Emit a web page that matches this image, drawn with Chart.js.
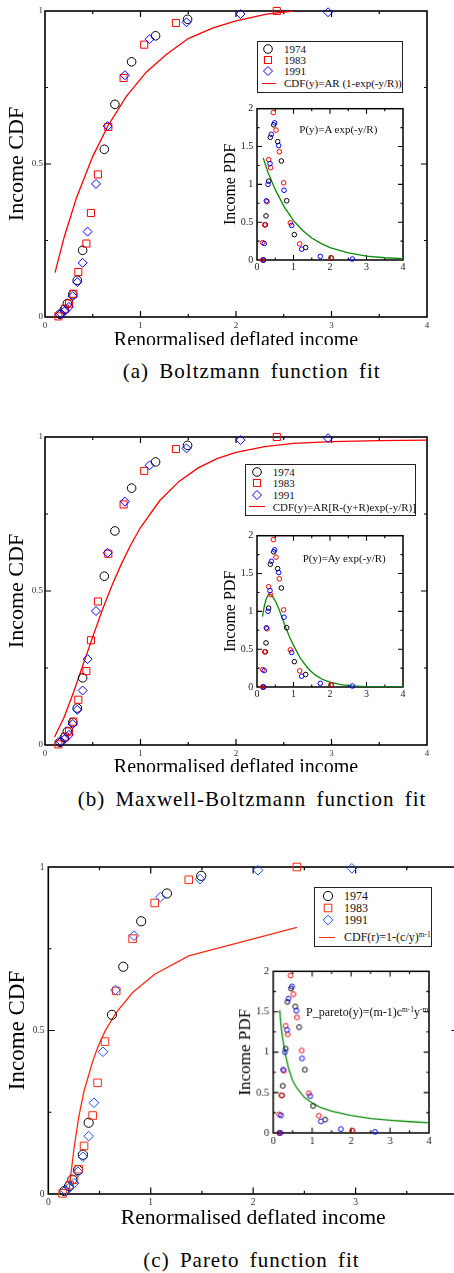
<!DOCTYPE html>
<html><head><meta charset="utf-8">
<script src="https://cdn.jsdelivr.net/npm/chart.js@4.4.1/dist/chart.umd.min.js"></script>
<style>
html,body{margin:0;padding:0;background:#fff;}
#page{position:relative;width:454px;height:1273px;overflow:hidden;background:#fff;}
.clip{position:absolute;overflow:hidden;}
canvas{display:block;position:absolute;}
.legend{position:absolute;border:1px solid #222;background:#fff;box-sizing:border-box;}
.txt{position:absolute;font-family:"Liberation Serif","Times New Roman",serif;white-space:nowrap;color:#111;line-height:1;transform:translateY(-50%);}
.caption{position:absolute;font-family:"Liberation Serif","Times New Roman",serif;white-space:nowrap;color:#000;line-height:1;transform:translate(-50%,-50%);font-size:21px;letter-spacing:1px;word-spacing:4px;}
sup{font-size:0.62em;vertical-align:0.55em;line-height:0;}
</style></head><body><div id="page"></div>
<script>
// ---------------- DATA ----------------
const years = ['1974', '1983', '1991'];

// Income CDF (main panels)
const cdf1974X = [0.157,0.202,0.234,0.290,0.338,0.394,0.621,0.732,0.907,1.158,1.493];
const cdf1974Y = [0.009,0.024,0.044,0.073,0.120,0.218,0.548,0.695,0.834,0.919,0.973];
const cdf1983X = [0.140,0.209,0.251,0.297,0.349,0.433,0.481,0.554,0.663,0.823,1.039,1.371,2.427];
const cdf1983Y = [0.002,0.027,0.044,0.076,0.147,0.240,0.340,0.466,0.621,0.781,0.890,0.961,1.000];
const cdf1991X = [0.167,0.209,0.251,0.290,0.338,0.394,0.446,0.534,0.656,0.837,1.095,1.482,2.047,2.964];
const cdf1991Y = [0.011,0.020,0.033,0.068,0.114,0.177,0.279,0.435,0.624,0.790,0.908,0.963,0.990,0.996];

// Income PDF (insets)
const pdf1974X = [0.164,0.228,0.247,0.320,0.365,0.457,0.566,0.667,0.813,1.023,1.333,2.030];
const pdf1974Y = [0.000,0.465,0.583,1.043,1.622,1.787,1.565,1.309,0.783,0.335,0.165,0.026];
const pdf1983X = [0.155,0.155,0.210,0.274,0.320,0.374,0.447,0.520,0.612,0.730,0.913,1.169,2.030];
const pdf1983Y = [0.000,0.230,0.465,0.770,1.326,1.220,1.948,1.717,1.430,1.020,0.491,0.213,0.030];
const pdf1991X = [0.183,0.200,0.256,0.301,0.356,0.393,0.484,0.594,0.740,0.950,1.224,1.735,2.612];
const pdf1991Y = [0.000,0.217,0.783,1.000,1.274,1.661,1.813,1.513,0.922,0.457,0.143,0.048,0.013];

// Fitted CDF curves
const boltzCdfX = [0.105,0.2,0.33,0.5,0.66,0.85,1.06,1.27,1.5,1.76,2.0,2.32,2.6];
const boltzCdfY = [0.145,0.26,0.39,0.525,0.625,0.72,0.80,0.858,0.91,0.945,0.968,0.99,1.0];
const mbCdfX = [0.1,0.2,0.3,0.4,0.5,0.6,0.7,0.8,0.9,1.0,1.2,1.4,1.6,1.8,2.0,2.3,2.6,3.0,3.5,4.0];
const mbCdfY = [0.026,0.09,0.172,0.262,0.351,0.438,0.517,0.588,0.651,0.706,0.793,0.855,0.899,0.93,0.95,0.969,0.979,0.985,0.988,0.99];
const paretoCdfX = [0.140,0.209,0.251,0.297,0.349,0.433,0.481,0.554,0.663,0.823,1.039,1.371,2.427];
const paretoCdfY = [-0.27,0.03,0.14,0.235,0.315,0.405,0.447,0.498,0.555,0.616,0.672,0.728,0.815];

// Fitted PDF curves (insets)
const boltzPdfX = [0.17,0.3,0.5,0.75,1.0,1.25,1.5,1.75,2.0,2.5,3.0,3.5,4.0];
const boltzPdfY = [1.35,1.16,0.93,0.70,0.52,0.39,0.29,0.22,0.165,0.093,0.052,0.03,0.017];
const mbPdfX = [0.15,0.2,0.25,0.3,0.35,0.4,0.5,0.6,0.7,0.8,0.9,1.0,1.2,1.4,1.6,1.8,2.0,2.3,2.6,3.0,3.5,4.0];
const mbPdfY = [0.93,1.07,1.16,1.21,1.225,1.215,1.14,1.03,0.90,0.77,0.655,0.55,0.37,0.245,0.157,0.10,0.063,0.03,0.015,0.005,0.001,0.0];
const paretoPdfX = [0.17,0.2,0.25,0.3,0.4,0.5,0.6,0.8,1.0,1.2,1.5,2.0,2.5,3.0,3.5,4.0];
const paretoPdfY = [1.52,1.33,1.15,1.0,0.79,0.65,0.56,0.44,0.37,0.32,0.27,0.215,0.18,0.158,0.14,0.127];

// Tick values and labels
const xMajorTicks = [0,1,2,3,4];
const xMinorTicks = [0.5,1.5,2.5,3.5];
const cdfMajorTicks = [0,0.5,1];
const cdfMinorTicks = [0.25,0.75];
const pdfMajorTicks = [0,0.5,1,1.5,2];
const pdfMinorTicks = [0.25,0.75,1.25,1.75];
const xTickLabels = ['0','1','2','3','4'];
const cdfTickLabels = ['0','0.5','1'];
const pdfTickLabels = ['0','0.5','1','1.5','2'];

// Text
const cdfFitLabels = ['CDF(y)=AR (1-exp(-y/R))', 'CDF(y)=AR[R-(y+R)exp(-y/R)]', 'CDF(r)=1-(c/y)<sup>m-1</sup>'];
const pdfFitLabels = ['P(y)=A exp(-y/R)', 'P(y)=Ay exp(-y/R)', 'P_pareto(y)=(m-1)c<sup>m-1</sup>y<sup>-m</sup>'];
const captions = ['(a) Boltzmann function fit', '(b) Maxwell-Boltzmann function fit', '(c) Pareto function fit'];

// ---------------- HELPERS ----------------
const FONT = '"Liberation Serif","Times New Roman",serif';
const zip = (xs, ys) => xs.map((x, i) => ({x, y: ys[i]}));
const page = document.getElementById('page');

const frameTicks = {
  id: 'frameTicks',
  beforeDatasetsDraw(chart, args, o) {
    const {ctx, chartArea: {left, right, top, bottom}, scales: {x, y}} = chart;
    ctx.save();
    ctx.strokeStyle = '#000';
    ctx.lineWidth = o.tickWidth;
    ctx.beginPath();
    const hx = (vals, len) => vals.forEach(v => {
      if (v <= x.min || v >= x.max) return;
      const px = x.getPixelForValue(v);
      ctx.moveTo(px, bottom); ctx.lineTo(px, bottom - len);
      ctx.moveTo(px, top); ctx.lineTo(px, top + len);
    });
    const vy = (vals, len) => vals.forEach(v => {
      if (v <= y.min || v >= y.max) return;
      const py = y.getPixelForValue(v);
      ctx.moveTo(left, py); ctx.lineTo(left + len, py);
      ctx.moveTo(right, py); ctx.lineTo(right - len, py);
    });
    hx(o.xMajor, o.major); hx(o.xMinor, o.minor);
    vy(o.yMajor, o.major); vy(o.yMinor, o.minor);
    ctx.stroke();
    ctx.lineWidth = o.frameWidth;
    ctx.strokeRect(left, top, right - left, bottom - top);
    ctx.restore();
  }
};
Chart.register(frameTicks);

function makeCanvas(parent, left, top, w, h) {
  const c = document.createElement('canvas');
  c.width = w; c.height = h;
  c.style.left = left + 'px'; c.style.top = top + 'px';
  c.style.width = w + 'px'; c.style.height = h + 'px';
  parent.appendChild(c);
  return c;
}

function pointSet(label, xs, ys, style, color, r, order) {
  return {label, data: zip(xs, ys), showLine: false, pointStyle: style, pointRadius: r,
    pointBorderColor: color, borderColor: color, pointBackgroundColor: 'rgba(0,0,0,0)',
    backgroundColor: 'rgba(0,0,0,0)', pointBorderWidth: 1, borderWidth: 1, clip: false, order};
}
function lineSet(label, xs, ys, color, w) {
  return {label, data: zip(xs, ys), showLine: true, pointRadius: 0, borderColor: color,
    backgroundColor: color, borderWidth: w, tension: 0, order: 5};
}
const labelFrom = (vals, labels) => (v) => { const i = vals.indexOf(v); return i >= 0 ? labels[i] : ''; };

function buildMain(g, datasets) {
  const clip = document.createElement('div');
  clip.className = 'clip';
  clip.style.cssText = `left:0;top:${g.clipTop}px;width:454px;height:${g.clipBottom - g.clipTop}px;`;
  page.appendChild(clip);
  const canvasTop = g.plotT - 10;
  const xH = 40;
  const canvasH = g.plotB + xH - canvasTop;
  const c = makeCanvas(clip, 0, canvasTop - g.clipTop, g.canvasW, canvasH);
  const tickLH = g.tick * 1.2;
  new Chart(c, {
    type: 'scatter',
    data: {datasets},
    options: {
      responsive: false, animation: false, devicePixelRatio: 1,
      layout: {padding: {left: 0, top: 10, right: g.canvasW - g.plotR, bottom: 0}},
      plugins: {legend: {display: false}, tooltip: {enabled: false},
        frameTicks: {xMajor: xMajorTicks, xMinor: xMinorTicks, yMajor: cdfMajorTicks, yMinor: cdfMinorTicks,
          major: g.major, minor: g.minor, tickWidth: 1.2, frameWidth: 1.6}},
      scales: {
        x: {type: 'linear', min: 0, max: 4,
          afterBuildTicks: s => { s.ticks = xMajorTicks.map(v => ({value: v})); },
          afterFit: s => { s.height = xH; },
          grid: {display: false, drawTicks: false}, border: {display: false},
          ticks: {padding: g.xLabelCenter - g.plotB - tickLH / 2, color: '#333', maxRotation: 0, autoSkip: false,
            callback: labelFrom(xMajorTicks, xTickLabels),
            font: {family: FONT, size: g.tick, lineHeight: 1.2}},
          title: {display: true, text: 'Renormalised deflated income', color: '#000',
            font: {family: FONT, size: g.xTitle, lineHeight: 1.2},
            padding: {top: 0, bottom: (g.plotB + xH) - g.xTitleCenter - g.xTitle * 0.6}}},
        y: {type: 'linear', min: 0, max: 1,
          afterBuildTicks: s => { s.ticks = cdfMajorTicks.map(v => ({value: v})); },
          afterFit: s => { s.width = g.plotL; },
          grid: {display: false, drawTicks: false}, border: {display: false},
          ticks: {padding: g.plotL - g.yLabelRight, color: '#333', autoSkip: false,
            callback: labelFrom(cdfMajorTicks, cdfTickLabels),
            font: {family: FONT, size: g.tick, lineHeight: 1.2}},
          title: {display: true, text: 'Income CDF', color: '#000',
            font: {family: FONT, size: g.yTitle, lineHeight: 1.2},
            padding: {top: g.yTitleCenterX - g.yTitle * 0.6, bottom: 0}}}
      }
    }
  });
}

function buildInset(g, datasets) {
  const yW = g.yW, canvasLeft = g.plotL - yW, canvasTop = g.plotT - 8, xH = 20;
  const w = g.plotR + 10 - canvasLeft, h = g.plotB + xH - canvasTop;
  const c = makeCanvas(page, canvasLeft, canvasTop, w, h);
  const tickLH = g.tick * 1.2;
  new Chart(c, {
    type: 'scatter',
    data: {datasets},
    options: {
      responsive: false, animation: false, devicePixelRatio: 1,
      layout: {padding: {left: 0, top: 8, right: 10, bottom: 0}},
      plugins: {legend: {display: false}, tooltip: {enabled: false},
        frameTicks: {xMajor: xMajorTicks, xMinor: xMinorTicks, yMajor: pdfMajorTicks, yMinor: pdfMinorTicks,
          major: g.major, minor: g.minor, tickWidth: 1.1, frameWidth: 1.5}},
      scales: {
        x: {type: 'linear', min: 0, max: 4,
          afterBuildTicks: s => { s.ticks = xMajorTicks.map(v => ({value: v})); },
          afterFit: s => { s.height = xH; },
          grid: {display: false, drawTicks: false}, border: {display: false},
          ticks: {padding: g.xLabelCenter - g.plotB - tickLH / 2, color: '#222', maxRotation: 0, autoSkip: false,
            callback: labelFrom(xMajorTicks, xTickLabels),
            font: {family: FONT, size: g.tick, lineHeight: 1.2}}},
        y: {type: 'linear', min: 0, max: 2,
          afterBuildTicks: s => { s.ticks = pdfMajorTicks.map(v => ({value: v})); },
          afterFit: s => { s.width = yW; },
          grid: {display: false, drawTicks: false}, border: {display: false},
          ticks: {padding: g.plotL - g.yLabelRight, color: '#222', autoSkip: false,
            callback: labelFrom(pdfMajorTicks, pdfTickLabels),
            font: {family: FONT, size: g.tick, lineHeight: 1.2}},
          title: {display: true, text: 'Income PDF', color: '#000',
            font: {family: FONT, size: g.yTitle, lineHeight: 1.2},
            padding: {top: (g.yTitleCenterX - canvasLeft) - g.yTitle * 0.6, bottom: 0}}}
      }
    }
  });
}

function svgMarker(type, color, r, cx, cy) {
  const NS = 'http://www.w3.org/2000/svg';
  const s = document.createElementNS(NS, 'svg');
  s.setAttribute('width', 20); s.setAttribute('height', 20);
  s.style.cssText = `position:absolute;left:${cx - 10}px;top:${cy - 10}px;overflow:visible;`;
  let el;
  if (type === 'circle') {
    el = document.createElementNS(NS, 'circle');
    el.setAttribute('cx', 10); el.setAttribute('cy', 10); el.setAttribute('r', r);
  } else if (type === 'rect') {
    const h = r * Math.SQRT1_2;
    el = document.createElementNS(NS, 'rect');
    el.setAttribute('x', 10 - h); el.setAttribute('y', 10 - h);
    el.setAttribute('width', 2 * h); el.setAttribute('height', 2 * h);
  } else {
    el = document.createElementNS(NS, 'polygon');
    el.setAttribute('points', `${10 - r},10 10,${10 - r} ${10 + r},10 10,${10 + r}`);
  }
  el.setAttribute('fill', 'none'); el.setAttribute('stroke', color); el.setAttribute('stroke-width', 1);
  s.appendChild(el);
  page.appendChild(s);
}

function addText(html, left, cy, size, cls) {
  const d = document.createElement('div');
  d.className = cls || 'txt';
  d.innerHTML = html;
  d.style.left = left + 'px'; d.style.top = cy + 'px';
  if (size) d.style.fontSize = size + 'px';
  page.appendChild(d);
  return d;
}

function buildLegend(g, fitLabel, fitColor, markers) {
  const box = document.createElement('div');
  box.className = 'legend';
  box.style.cssText = `left:${g.box[0]}px;top:${g.box[1]}px;width:${g.box[2]}px;height:${g.box[3]}px;`;
  page.appendChild(box);
  markers.forEach((m, i) => {
    svgMarker(m.type, m.color, m.r, g.symX, g.rows[i]);
    addText(years[i], g.textX, g.rows[i], g.font);
  });
  const ln = document.createElement('div');
  ln.style.cssText = `position:absolute;left:${g.line[0]}px;top:${g.rows[3] - 0.65}px;width:${g.line[1] - g.line[0]}px;height:1.3px;background:${fitColor};`;
  page.appendChild(ln);
  addText(fitLabel, g.textX, g.rows[3], g.font);
}

// ---------------- PANELS ----------------
const RED = '#ff0000', BLUE = '#0000ff', BLACK = '#000000', GREEN = '#0a8a0a';

function cdfSets(k, fitX, fitY, fitLabel, fitColor, red, blue) {
  return [
    pointSet(years[0], cdf1974X, cdf1974Y, 'circle', BLACK, 4.3 * k, 2),
    pointSet(years[1], cdf1983X, cdf1983Y, 'rect', red, 5.0 * k, 1),
    pointSet(years[2], cdf1991X, cdf1991Y, 'rectRot', blue, 4.5 * k, 0),
    lineSet(fitLabel, fitX, fitY, fitColor, 1.3)
  ];
}
function pdfSets(r, fitX, fitY, fitLabel) {
  return [
    pointSet(years[0], pdf1974X, pdf1974Y, 'circle', BLACK, r, 2),
    pointSet(years[1], pdf1983X, pdf1983Y, 'circle', RED, r, 1),
    pointSet(years[2], pdf1991X, pdf1991Y, 'circle', BLUE, r, 0),
    lineSet(fitLabel, fitX, fitY, GREEN, 1.3)
  ];
}
const mk = (k, red, blue) => [
  {type: 'circle', color: BLACK, r: 4.3 * k},
  {type: 'rect', color: red, r: 5.0 * k},
  {type: 'rectRot', color: blue, r: 4.5 * k}
];

// (a)
buildMain({clipTop: 0, clipBottom: 344.8, canvasW: 454, plotL: 45, plotR: 427, plotT: 10.7, plotB: 316.7,
  tick: 9, xTitle: 20, yTitle: 22, xTitleCenter: 340, yTitleCenterX: 17, yLabelRight: 43, xLabelCenter: 325,
  major: 6, minor: 3}, cdfSets(1, boltzCdfX, boltzCdfY, 'Boltzmann CDF fit', RED, RED, BLUE));
buildInset({plotL: 256.7, plotR: 402.7, plotT: 106.7, plotB: 260, yW: 42, tick: 10, yTitle: 16,
  yTitleCenterX: 230.7, yLabelRight: 253, xLabelCenter: 267.7, major: 5, minor: 2.5},
  pdfSets(2.3, boltzPdfX, boltzPdfY, 'Boltzmann PDF fit'));
buildLegend({box: [256.7, 40.7, 146, 52], symX: 268.3, textX: 284, rows: [48.7, 60.3, 71.3, 83.3],
  line: [261.7, 276], font: 11}, cdfFitLabels[0], RED, mk(1, RED, BLUE));
addText(pdfFitLabels[0], 299.3, 129, 11);
addText(captions[0], 251.7, 371, 0, 'caption');

// (b)
buildMain({clipTop: 420, clipBottom: 772, canvasW: 454, plotL: 45, plotR: 427, plotT: 436.7, plotB: 745,
  tick: 9, xTitle: 20, yTitle: 22, xTitleCenter: 767.7, yTitleCenterX: 17, yLabelRight: 43, xLabelCenter: 753.3,
  major: 6, minor: 3}, cdfSets(1, mbCdfX, mbCdfY, 'Maxwell-Boltzmann CDF fit', RED, RED, BLUE));
buildInset({plotL: 256.7, plotR: 402.7, plotT: 534, plotB: 687.3, yW: 42, tick: 10, yTitle: 16,
  yTitleCenterX: 230.7, yLabelRight: 253, xLabelCenter: 695, major: 5, minor: 2.5},
  pdfSets(2.3, mbPdfX, mbPdfY, 'Maxwell-Boltzmann PDF fit'));
buildLegend({box: [245, 464, 170.7, 52], symX: 257, textX: 272.7, rows: [472.3, 483.3, 494.7, 506.7],
  line: [249.3, 265], font: 11}, cdfFitLabels[1], RED, mk(1, RED, BLUE));
addText(pdfFitLabels[1], 302.7, 557.7, 11);
addText(captions[1], 252, 799, 0, 'caption');

// (c)
const RED_C = '#ff2a10', BLUE_C = '#1a4dff';
buildMain({clipTop: 850, clipBottom: 1273, canvasW: 490, plotL: 48.3, plotR: 458, plotT: 866.7, plotB: 1194,
  tick: 9.5, xTitle: 21.7, yTitle: 23, xTitleCenter: 1218.3, yTitleCenterX: 18.3, yLabelRight: 44.5, xLabelCenter: 1202.7,
  major: 6.4, minor: 3.2}, cdfSets(1.07, paretoCdfX, paretoCdfY, 'Pareto CDF fit', RED_C, RED_C, BLUE_C));
buildInset({plotL: 273.3, plotR: 428.7, plotT: 969, plotB: 1132.7, yW: 44, tick: 10.5, yTitle: 17,
  yTitleCenterX: 246, yLabelRight: 269.3, xLabelCenter: 1141, major: 5.3, minor: 2.7},
  pdfSets(2.4, paretoPdfX, paretoPdfY, 'Pareto PDF fit'));
buildLegend({box: [314.3, 887.3, 117.4, 60], symX: 327.7, textX: 344, rows: [896, 908, 920, 937.3],
  line: [319.3, 335], font: 12}, cdfFitLabels[2], RED_C, mk(1.07, RED_C, BLUE_C));
addText(pdfFitLabels[2], 306, 1011.7, 12);
addText(captions[2], 251.5, 1260, 0, 'caption');
</script></body></html>
